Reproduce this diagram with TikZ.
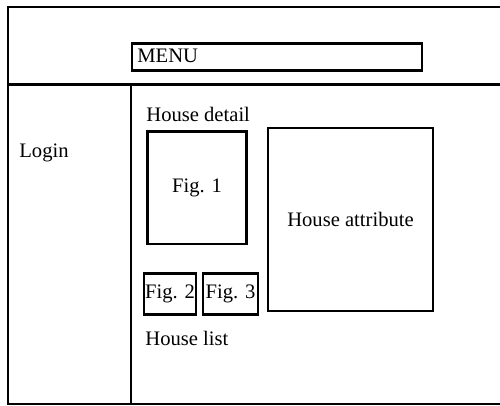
\documentclass[tikz,border=0pt]{standalone}
\usepackage{fontspec}
\setmainfont{Liberation Serif}
\usetikzlibrary{positioning}

\begin{document}
\begin{tikzpicture}[x=1pt, y=-1pt, line width=2.8pt,
  every node/.style={inner sep=0pt, font=\fontsize{20.6}{24}\selectfont},
  box/.style={draw, rectangle, align=center},
  lbl/.style={anchor=base west}]
\useasboundingbox (0,0) rectangle (500,406);
\draw (500,7) -- (8,7) -- (8,404) -- (500,404);
\draw (8,84.5) -- (500,84.5);
\draw (131,84.5) -- (131,404);
\node[box, minimum width=290pt, minimum height=27pt] (menu) at (277,57) {};
\node[lbl] (menutext) at (136,63) {MENU};
\node[lbl] (login) at (18,158) {Login};
\node[lbl] (detail) at (145,121.5) {House detail};
\node[box, minimum width=99pt, minimum height=112.5pt] (fig1) at (197,187.75) {Fig. 1};
\node[box, minimum width=165pt, minimum height=183pt] (attr) at (350.5,219.5) {House attribute};
\node[box, minimum width=52pt, minimum height=41pt] (fig2) at (170,294) {Fig. 2};
\node[box, minimum width=55pt, minimum height=41pt, right=4.2pt of fig2] (fig3) {Fig. 3};
\node[lbl] (list) at (144,345) {House list};
\end{tikzpicture}
\end{document}
